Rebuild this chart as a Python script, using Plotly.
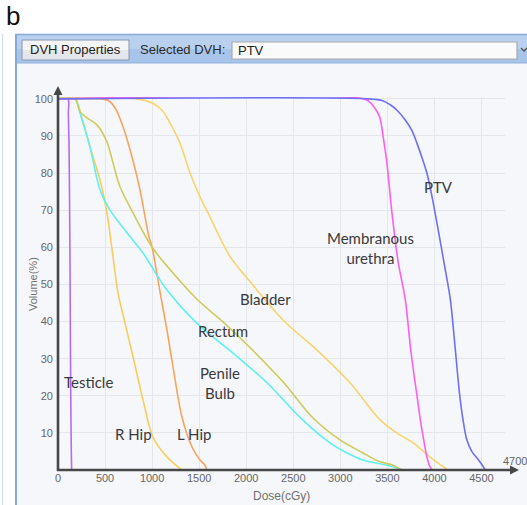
import plotly.graph_objects as go

# Dose-volume histogram data: dose in cGy, volume in %
ptv_dose = [0, 3300, 3450, 3530, 3600, 3690, 3760, 3815, 3870, 3920, 3975, 4040, 4110, 4170, 4220, 4265, 4304, 4346, 4400, 4453, 4500, 4540]
ptv_vol = [100, 100, 99.5, 98.4, 97, 94.3, 91.5, 88, 84, 80, 73.6, 64.7, 54.7, 45.8, 33, 21, 13.5, 8, 4.9, 3.2, 1.6, 0]

urethra_dose = [0, 3250, 3320, 3380, 3420, 3460, 3495, 3550, 3615, 3690, 3750, 3820, 3850, 3880, 3920, 3950, 3975]
urethra_vol = [100, 100, 99, 97, 95, 89, 82.7, 69, 56, 46, 32, 19, 13.5, 9, 3.5, 1, 0]

bladder_dose = [0, 840, 1000, 1105, 1190, 1297, 1403, 1509, 1615, 1722, 1828, 1950, 2040, 2391, 2752, 3103, 3422, 3600, 3775, 3953, 4130]
bladder_vol = [100, 100, 98.9, 97, 93.5, 88, 80, 73.6, 68.2, 62.5, 57.5, 53.5, 50.8, 40.4, 32.3, 23.5, 13.5, 10, 7.3, 3.5, 0.3]

rectum_dose = [0, 180, 234, 308, 414, 520, 585, 659, 797, 1000, 1190, 1477, 1750, 2040, 2400, 2710, 2997, 3241, 3422, 3560, 3650]
rectum_vol = [100, 100, 96.5, 94.9, 93, 88.4, 82.7, 76.3, 69.3, 60, 54, 46, 40, 33, 23.5, 14, 8.1, 4.6, 2.2, 1.3, 0]

bulb_dose = [0, 180, 234, 340, 446, 553, 733, 903, 1000, 1158, 1477, 1860, 2221, 2600, 2890, 3071, 3241, 3496, 3670]
bulb_vol = [100, 100, 96.2, 87, 75.5, 70, 63.9, 58.5, 54.6, 48.5, 39.5, 31.5, 23.5, 13.5, 7.3, 4.6, 2.7, 1.3, 0]

rhip_dose = [0, 180, 266, 372, 446, 520, 585, 638, 712, 797, 903, 1009, 1158, 1317]
rhip_vol = [100, 100, 93.5, 84.4, 78.2, 69.3, 57.4, 47.7, 39.6, 30.5, 18.9, 8.9, 3.5, 0]

lhip_dose = [0, 467, 540, 606, 691, 786, 871, 925, 967, 1000, 1084, 1158, 1222, 1317, 1424, 1509, 1562, 1580]
lhip_vol = [100, 100, 99.5, 97.6, 92.5, 84.4, 75.5, 68.2, 62.8, 60, 48, 37.7, 27.8, 14.3, 6.2, 2.7, 1.3, 0]

testicle_dose = [0, 105, 110, 118, 125, 128, 133, 138, 142, 145]
testicle_vol = [100, 100, 96, 86, 65, 54, 30, 12.7, 4, 0]

x_ticks = [0, 500, 1000, 1500, 2000, 2500, 3000, 3500, 4000, 4500]
y_ticks = [10, 20, 30, 40, 50, 60, 70, 80, 90, 100]

# Figure geometry (pixels)
W, H = 527, 505
L, R, T, B = 58, 505, 97, 470
X_MAX, Y_MAX = 4750, 100.5


def px(x):
    return (x - L) / (R - L)


def py(y):
    return (B - y) / (B - T)


structures = [
    ("Testicle", testicle_dose, testicle_vol, "#b46cf2"),
    ("R Hip", rhip_dose, rhip_vol, "#f9cc5c"),
    ("L Hip", lhip_dose, lhip_vol, "#f8a45c"),
    ("Penile Bulb", bulb_dose, bulb_vol, "#5ff0f0"),
    ("Rectum", rectum_dose, rectum_vol, "#cccc5c"),
    ("Bladder", bladder_dose, bladder_vol, "#f9d46c"),
    ("Membranous urethra", urethra_dose, urethra_vol, "#ff5ff0"),
    ("PTV", ptv_dose, ptv_vol, "#6e6ef6"),
]

fig = go.Figure()
for name, d, v, c in structures:
    fig.add_trace(go.Scatter(x=d, y=v, mode="lines", name=name,
                             line=dict(color=c, width=1.6, shape="spline", smoothing=0.9),
                             hoverinfo="skip"))

shapes = []
# window chrome
shapes.append(dict(type="line", xref="paper", yref="paper", x0=px(2.5), x1=px(2.5), y0=py(34), y1=py(510),
                   line=dict(color="#cfe0f3", width=1.2), layer="below"))
shapes.append(dict(type="rect", xref="paper", yref="paper", x0=px(17), x1=px(530), y0=py(63), y1=py(510),
                   fillcolor="#f6f7fb", line=dict(width=0), layer="below"))
shapes.append(dict(type="rect", xref="paper", yref="paper", x0=px(16), x1=px(530), y0=py(35), y1=py(49),
                   fillcolor="#b9d1ee", line=dict(width=0), layer="below"))
shapes.append(dict(type="rect", xref="paper", yref="paper", x0=px(16), x1=px(530), y0=py(49), y1=py(63),
                   fillcolor="#a8c4e8", line=dict(width=0), layer="below"))
shapes.append(dict(type="line", xref="paper", yref="paper", x0=px(15), x1=px(530), y0=py(34.5), y1=py(34.5),
                   line=dict(color="#86a9d6", width=1.5), layer="below"))
shapes.append(dict(type="line", xref="paper", yref="paper", x0=px(16), x1=px(530), y0=py(63), y1=py(63),
                   line=dict(color="#8fb1dc", width=1.2), layer="below"))
shapes.append(dict(type="line", xref="paper", yref="paper", x0=px(16), x1=px(16), y0=py(34), y1=py(510),
                   line=dict(color="#86a9d6", width=2), layer="below"))
# button
shapes.append(dict(type="rect", xref="paper", yref="paper", x0=px(22), x1=px(129), y0=py(40), y1=py(50),
                   fillcolor="#f4f5f7", line=dict(width=0), layer="below"))
shapes.append(dict(type="rect", xref="paper", yref="paper", x0=px(22), x1=px(129), y0=py(50), y1=py(60),
                   fillcolor="#e3e6ea", line=dict(width=0), layer="below"))
shapes.append(dict(type="rect", xref="paper", yref="paper", x0=px(22), x1=px(129), y0=py(40), y1=py(60),
                   fillcolor="rgba(0,0,0,0)", line=dict(color="#8497b0", width=1), layer="below"))
# drop-down box and its chevron
shapes.append(dict(type="rect", xref="paper", yref="paper", x0=px(232), x1=px(517), y0=py(42), y1=py(59),
                   fillcolor="#fafafa", line=dict(color="#a9a9a9", width=1.2), layer="below"))
shapes.append(dict(type="path", xref="paper", yref="paper",
                   path=f"M {px(521)} {py(48)} L {px(524)} {py(51)} L {px(527)} {py(48)}",
                   line=dict(color="#555", width=1.3)))
# axis lines (paper refs so they are not clipped)
shapes.append(dict(type="line", xref="paper", yref="paper", x0=0, x1=0, y0=py(471), y1=py(90),
                   line=dict(color="#474747", width=2.6)))
shapes.append(dict(type="line", xref="paper", yref="paper", x0=px(57), x1=px(514), y0=0, y1=0,
                   line=dict(color="#474747", width=2.6)))

annotations = []
annotations.append(dict(text="b", xref="paper", yref="paper", x=px(4), y=py(16), xanchor="left", yanchor="middle",
                        showarrow=False, font=dict(family="Arial", size=26, color="#111")))
annotations.append(dict(text="DVH Properties", xref="paper", yref="paper", x=px(75.5), y=py(50),
                        xanchor="center", yanchor="middle", showarrow=False,
                        font=dict(family="Arial", size=13, color="#222")))
annotations.append(dict(text="Selected DVH:", xref="paper", yref="paper", x=px(138), y=py(50),
                        xanchor="left", yanchor="middle", showarrow=False,
                        font=dict(family="Arial", size=13, color="#2a2a2a")))
annotations.append(dict(text="PTV", xref="paper", yref="paper", x=px(236), y=py(50.5),
                        xanchor="left", yanchor="middle", showarrow=False,
                        font=dict(family="Arial", size=13, color="#222")))
# axis arrow heads
annotations.append(dict(x=0, y=py(86), xref="paper", yref="paper", ax=0, ay=6, axref="pixel", ayref="pixel",
                        text="", showarrow=True, arrowhead=2, arrowsize=1, arrowwidth=1.8, arrowcolor="#474747"))
annotations.append(dict(x=px(519), y=0, xref="paper", yref="paper", ax=-6, ay=0,
                        text="", showarrow=True, arrowhead=2, arrowsize=1, arrowwidth=1.8, arrowcolor="#474747"))
annotations.append(dict(text="4700", xref="paper", yref="paper", x=px(501), y=py(461),
                        xanchor="left", yanchor="middle", showarrow=False,
                        font=dict(family="Arial", size=11, color="#666")))
# axis titles
annotations.append(dict(text="Dose(cGy)", xref="paper", yref="paper", x=px(281), y=py(496),
                        xanchor="center", yanchor="middle", showarrow=False,
                        font=dict(family="Arial", size=12, color="#707070")))
annotations.append(dict(text="Volume(%)", xref="paper", yref="paper", x=px(33), y=py(284), textangle=-90,
                        xanchor="center", yanchor="middle", showarrow=False,
                        font=dict(family="Arial", size=11, color="#707070")))

# structure labels
label_font = dict(family="Lato", size=15, color="#3a3a3a")
struct_labels = [
    ("PTV", 438, 187),
    ("Membranous<br>urethra", 370, 248),
    ("Bladder", 265, 299),
    ("Rectum", 223, 331),
    ("Penile<br>Bulb", 220, 383),
    ("Testicle", 88, 382),
    ("R Hip", 133, 434),
    ("L Hip", 194, 434),
]
for txt, x, y in struct_labels:
    annotations.append(dict(text=txt, xref="paper", yref="paper", x=px(x), y=py(y),
                            xanchor="center", yanchor="middle", showarrow=False, font=label_font))

fig.update_layout(
    width=W, height=H,
    margin=dict(l=L, r=W - R, t=T, b=H - B, pad=0),
    paper_bgcolor="white", plot_bgcolor="#f6f7fb",
    showlegend=False,
    shapes=shapes, annotations=annotations,
    xaxis=dict(range=[0, X_MAX], tickvals=x_ticks, showgrid=True, gridcolor="#e5e6eb", gridwidth=1,
               zeroline=False, showline=False, ticks="", fixedrange=True,
               tickfont=dict(family="Arial", size=11, color="#666")),
    yaxis=dict(range=[0, Y_MAX], tickvals=y_ticks, showgrid=True, gridcolor="#e5e6eb", gridwidth=1,
               zeroline=False, showline=False, ticks="", fixedrange=True, ticklabelstandoff=4,
               tickfont=dict(family="Arial", size=11, color="#666")),
)

fig.write_html("out.html")
